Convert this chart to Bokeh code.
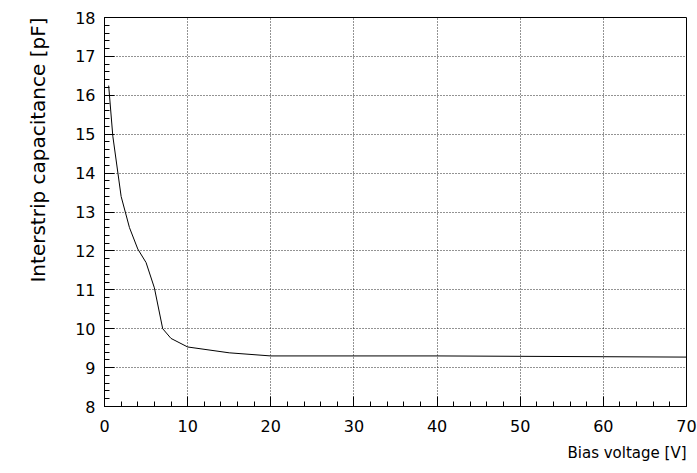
from bokeh.plotting import figure
from bokeh.models import Range1d, Title, SingleIntervalTicker
from bokeh.embed import file_html
from bokeh.resources import INLINE

voltage = [0.5, 1, 2, 3, 4, 5, 6, 7, 8, 10, 15, 20, 30, 40, 50, 60, 70]
capacitance = [16.25, 14.95, 13.4, 12.6, 12.05, 11.7, 11.05, 10.0, 9.75, 9.53, 9.38, 9.3, 9.3, 9.3, 9.29, 9.28, 9.27]

FONT = "DejaVu Sans"

p = figure(width=697, height=473, output_backend="svg", toolbar_location=None,
           x_range=Range1d(0, 70), y_range=Range1d(8, 18),
           min_border_left=104, min_border_right=11, min_border_top=17, min_border_bottom=67)
p.background_fill_color = "white"
p.border_fill_color = "white"
p.outline_line_color = "black"
p.outline_line_width = 1

p.line(voltage, capacitance, line_color="black", line_width=1)

p.xaxis.ticker = SingleIntervalTicker(interval=10, num_minor_ticks=5)
p.yaxis.ticker = SingleIntervalTicker(interval=1, num_minor_ticks=5)
for ax in (p.xaxis[0], p.yaxis[0]):
    ax.axis_line_color = "black"
    ax.major_tick_in = 10
    ax.major_tick_out = 0
    ax.minor_tick_in = 5
    ax.minor_tick_out = 0
    ax.major_tick_line_color = "black"
    ax.minor_tick_line_color = "black"
    ax.major_label_text_font = FONT
    ax.major_label_text_font_size = "16px"
    ax.major_label_text_color = "black"
p.xaxis.major_label_standoff = 13
p.yaxis.major_label_standoff = 9

for g in (p.xgrid[0], p.ygrid[0]):
    g.grid_line_color = "black"
    g.grid_line_dash = "1 2"
    g.grid_line_alpha = 0.85

tx = Title(text="Bias voltage [V]", align="right", text_font=FONT,
           text_font_size="15px", text_font_style="normal", text_color="black",
           standoff=15)
p.add_layout(tx, "below")
ty = Title(text="Interstrip capacitance [pF]", align="right", vertical_align="top",
           text_font=FONT, text_font_size="20px", text_font_style="normal",
           text_color="black", standoff=42)
p.add_layout(ty, "left")

open("out.html", "w").write(file_html(p, INLINE))
